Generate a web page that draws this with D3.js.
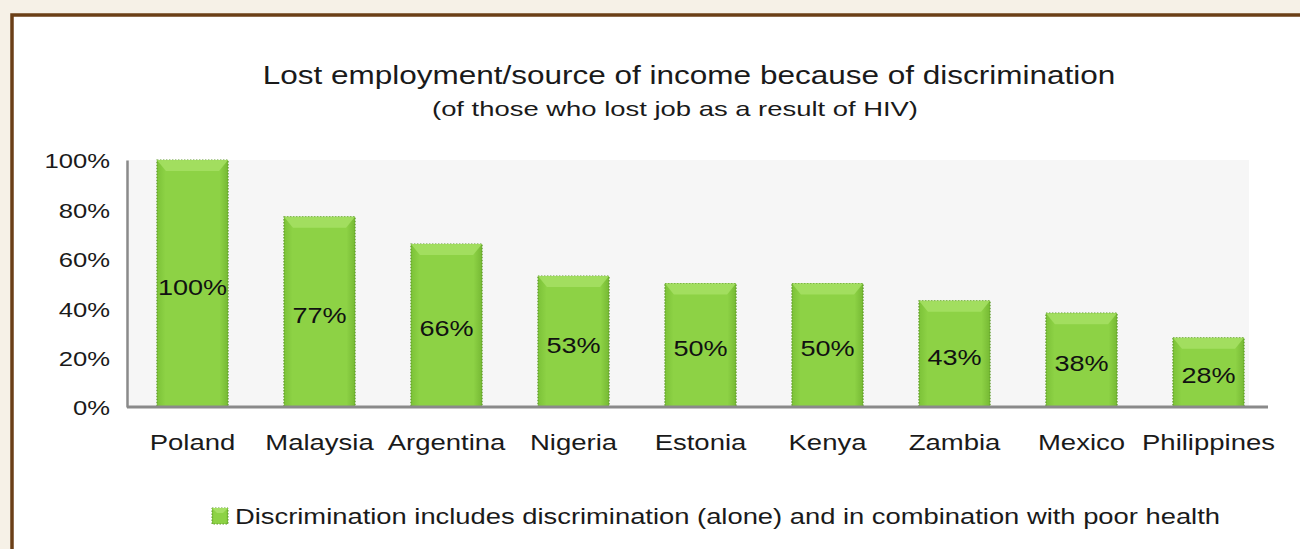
<!DOCTYPE html>
<html>
<head>
<meta charset="utf-8">
<script src="https://cdn.jsdelivr.net/npm/d3@7.9.0/dist/d3.min.js"></script>
<style>
  html, body { margin: 0; padding: 0; background: #f6f1e7; }
  svg { display: block; font-family: "Liberation Sans", Arial, Helvetica, sans-serif; }
</style>
</head>
<body>
<svg id="chart" width="1300" height="549"></svg>
<script>
const countries = ['Poland', 'Malaysia', 'Argentina', 'Nigeria', 'Estonia', 'Kenya', 'Zambia', 'Mexico', 'Philippines'];
const shares = [100, 77, 66, 53, 50, 50, 43, 38, 28];
const yTicks = [0, 20, 40, 60, 80, 100];
const title = 'Lost employment/source of income because of discrimination';
const subtitle = '(of those who lost job as a result of HIV)';
const legendLabel = 'Discrimination includes discrimination (alone) and in combination with poor health';

const data = countries.map((c, i) => ({ country: c, value: shares[i] }));

const svg = d3.select('#chart');

// the source picture is a bit wider than tall, so text is stretched sideways
function stretch(sel, k) {
  sel.each(function () {
    const w = this.getComputedTextLength();
    this.setAttribute('textLength', (w * k).toFixed(1));
    this.setAttribute('lengthAdjust', 'spacingAndGlyphs');
  });
}

// frame
svg.append('rect').attr('x', 12).attr('y', 15).attr('width', 1300).attr('height', 560)
  .attr('fill', '#ffffff').attr('stroke', '#6b3f17').attr('stroke-width', 3.5);

const defs = svg.append('defs');
const grad = defs.append('linearGradient').attr('id', 'barGrad').attr('x1', 0).attr('x2', 1).attr('y1', 0).attr('y2', 0);
grad.append('stop').attr('offset', '0%').attr('stop-color', '#7cc238');
grad.append('stop').attr('offset', '12%').attr('stop-color', '#8dd245');
grad.append('stop').attr('offset', '88%').attr('stop-color', '#8dd245');
grad.append('stop').attr('offset', '100%').attr('stop-color', '#76b934');

const plotLeft = 127, plotRight = 1270, plotTop = 160, plotBottom = 407;

const x = d3.scaleBand().domain(countries).range([plotLeft + 2, plotRight + 2]).paddingInner(0.44).paddingOuter(0.22);
const y = d3.scaleLinear().domain([0, 100]).range([plotBottom, plotTop]);

// plot background
svg.append('rect').attr('x', plotLeft).attr('y', y(100)).attr('width', 1249 - plotLeft).attr('height', y(0) - y(100))
  .attr('fill', '#f6f6f6');

// title
svg.append('text').attr('x', 689).attr('y', 84).attr('text-anchor', 'middle')
  .attr('font-size', 25).attr('fill', '#1a1a1a').text(title)
  .call(stretch, 1.26);
svg.append('text').attr('x', 675).attr('y', 116).attr('text-anchor', 'middle')
  .attr('font-size', 21).attr('fill', '#1a1a1a').text(subtitle)
  .attr('textLength', 486).attr('lengthAdjust', 'spacingAndGlyphs');

// bars
const bars = svg.append('g').selectAll('g').data(data).join('g');
bars.append('rect')
  .attr('x', d => x(d.country))
  .attr('y', d => y(d.value))
  .attr('width', x.bandwidth())
  .attr('height', d => y(0) - y(d.value))
  .attr('fill', 'url(#barGrad)')
  .attr('stroke', '#5f9a2a').attr('stroke-width', 1.2).attr('stroke-dasharray', '1.5 1.5');
// bevel at top
bars.append('path')
  .attr('d', d => {
    const x0 = x(d.country), x1 = x0 + x.bandwidth(), y0 = y(d.value);
    return `M${x0},${y0}L${x1},${y0}L${x1 - 9},${y0 + 11}L${x0 + 9},${y0 + 11}Z`;
  })
  .attr('fill', '#a6e064').attr('opacity', 0.85);
bars.append('text')
  .attr('x', d => x(d.country) + x.bandwidth() / 2)
  .attr('y', d => (y(d.value) + y(0)) / 2 + 11)
  .attr('text-anchor', 'middle').attr('font-size', 22).attr('fill', '#111')
  .text(d => d.value + '%')
  .call(stretch, 1.23);

// axes
const yAxis = svg.append('g').attr('transform', `translate(${plotLeft},0)`)
  .call(d3.axisLeft(y).tickValues(yTicks).tickSize(0).tickPadding(17).tickFormat(d => d + '%'));
yAxis.select('.domain').attr('stroke', '#8a8a8a').attr('stroke-width', 2.5);
yAxis.selectAll('text').attr('font-size', 21).attr('fill', '#1a1a1a').attr('font-family', null).attr('dy', '0.38em')
  .call(stretch, 1.22);

const xAxis = svg.append('g').attr('transform', `translate(0,${plotBottom})`)
  .call(d3.axisBottom(x).tickSize(0).tickPadding(27));
xAxis.select('.domain').attr('stroke', '#8a8a8a').attr('stroke-width', 3)
  .attr('d', `M${plotLeft},0H${plotRight - 2}`);
xAxis.selectAll('text').attr('font-size', 22).attr('fill', '#1a1a1a').attr('font-family', null)
  .call(stretch, 1.25);

// legend
const legend = svg.append('g').attr('transform', 'translate(212,508)');
legend.append('rect').attr('width', 16).attr('height', 16).attr('fill', 'url(#barGrad)')
  .attr('stroke', '#5f9a2a').attr('stroke-dasharray', '1.5 1.5');
legend.append('path').attr('d', 'M0,0L16,0L11,5L5,5Z').attr('fill', '#a6e064');
legend.append('text').attr('x', 23).attr('y', 16).attr('font-size', 22).attr('fill', '#1a1a1a').text(legendLabel)
  .attr('textLength', 985).attr('lengthAdjust', 'spacingAndGlyphs');
</script>
</body>
</html>
